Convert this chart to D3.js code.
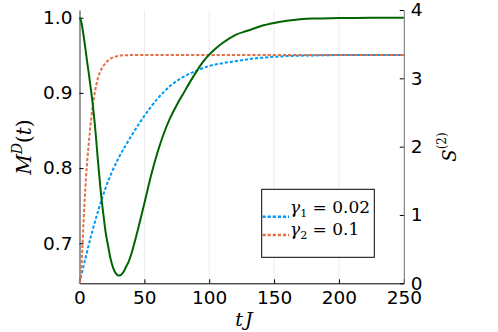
<!DOCTYPE html>
<html>
<head>
<meta charset="utf-8">
<script src="https://cdn.jsdelivr.net/npm/d3@7"></script>
<style>
  body { margin: 0; background: #fff; }
  svg { display: block; }
</style>
</head>
<body>
<svg id="chart"></svg>
<script>
// M^D(t) (left axis, solid green)
const greenT = [0, 1, 2, 3, 4, 5, 6, 7, 8, 9, 10, 11, 12, 13, 14, 15, 16, 17, 18, 19, 20, 22, 24, 26, 28, 30, 32, 34, 36, 38, 40, 45, 50, 55, 60, 65, 70, 75, 80, 85, 90, 95, 100, 105, 110, 120, 130, 140, 150, 160, 170, 180, 200, 225, 250]
const greenM = [1.0, 0.997, 0.989, 0.978, 0.966, 0.953, 0.94, 0.928, 0.915, 0.902, 0.888, 0.872, 0.855, 0.835, 0.814, 0.795, 0.776, 0.759, 0.744, 0.73, 0.716, 0.697, 0.679, 0.667, 0.66, 0.657, 0.658, 0.662, 0.669, 0.676, 0.686, 0.718, 0.753, 0.789, 0.82, 0.846, 0.867, 0.884, 0.899, 0.914, 0.928, 0.941, 0.951, 0.959, 0.966, 0.977, 0.983, 0.989, 0.993, 0.996, 0.998, 0.999, 0.9995, 1.0, 1.0]

// S^(2) (right axis, dotted)
const blueT = [0, 5, 10, 15, 20, 25, 30, 35, 40, 45, 50, 55, 60, 65, 70, 80, 90, 100, 110, 120, 130, 140, 150, 160, 180, 200, 250]
const blueS = [0, 0.4, 0.77, 1.1, 1.39, 1.63, 1.83, 2.0, 2.16, 2.31, 2.45, 2.58, 2.7, 2.8, 2.89, 3.02, 3.11, 3.18, 3.22, 3.25, 3.28, 3.3, 3.315, 3.325, 3.335, 3.34, 3.34]
const orangeT = [0, 1, 2, 3, 4, 5, 6, 7, 8, 9, 10, 11, 12, 13, 14, 15, 16, 18, 20, 22, 25, 28, 32, 40, 250]
const orangeS = [0, 0.1, 0.45, 0.84, 1.22, 1.54, 1.8, 2.02, 2.22, 2.4, 2.56, 2.7, 2.81, 2.91, 2.99, 3.05, 3.1, 3.17, 3.22, 3.26, 3.3, 3.32, 3.335, 3.34, 3.34]

const legendLabels = [["1", "0.02"], ["2", "0.1"]]
const xTicks = [0, 50, 100, 150, 200, 250]
const leftTicks = [0.7, 0.8, 0.9, 1.0]
const rightTicks = [0, 1, 2, 3, 4]

const width = 498, height = 332
const svg = d3.select("#chart").attr("width", width).attr("height", height)

const x = d3.scaleLinear().domain([0, 250]).range([79.5, 403.8])
const pad = (1.0 - 0.657) * 0.03
const yL = d3.scaleLinear().domain([0.657 - pad, 1.0 + pad]).range([283.3, 10])
const yR = d3.scaleLinear().domain([0, 4]).range([283.3, 10])

// vertical grid
svg.append("g")
  .selectAll("line")
  .data(xTicks.slice(1, -1))
  .enter()
  .append("line")
  .attr("x1", d => x(d)).attr("x2", d => x(d))
  .attr("y1", 10).attr("y2", 283.3)
  .attr("stroke", "#ebebeb")
  .attr("stroke-width", 1)

const tickFont = "DejaVu Sans, sans-serif"

const xAxis = svg.append("g")
  .attr("transform", "translate(0,283.3)")
  .call(d3.axisBottom(x).tickValues(xTicks).tickFormat(d3.format("d")).tickSizeInner(-4).tickSizeOuter(0).tickPadding(8))
const lAxis = svg.append("g")
  .attr("transform", "translate(79.5,0)")
  .call(d3.axisLeft(yL).tickValues(leftTicks).tickFormat(d3.format(".1f")).tickSizeInner(-4).tickSizeOuter(0).tickPadding(7))
const rAxis = svg.append("g")
  .attr("transform", "translate(403.8,0)")
  .call(d3.axisRight(yR).tickValues(rightTicks).tickFormat(d3.format("d")).tickSizeInner(-4).tickSizeOuter(0).tickPadding(7))

;[xAxis, lAxis, rAxis].forEach(g => {
  g.selectAll("text").attr("font-family", tickFont).attr("font-size", 18.5).attr("fill", "#000")
  g.selectAll(".tick line").attr("stroke", "#000")
})
xAxis.select(".domain").attr("stroke", "#000")
lAxis.select(".domain").attr("stroke", "#333")
rAxis.select(".domain").attr("stroke", "#6e6e6e")

// lines
const lineR = (ts, vs) => d3.line().curve(d3.curveMonotoneX).x((d, i) => x(ts[i])).y(d => yR(d))(vs)
const lineL = (ts, vs) => d3.line().curve(d3.curveMonotoneX).x((d, i) => x(ts[i])).y(d => yL(d))(vs)

const dotColors = ["#009af9", "#e26f46"]
const dash = "3.2,1.9"

svg.append("path").attr("d", lineR(blueT, blueS))
  .attr("fill", "none").attr("stroke", dotColors[0]).attr("stroke-width", 2).attr("stroke-dasharray", dash)
svg.append("path").attr("d", lineR(orangeT, orangeS))
  .attr("fill", "none").attr("stroke", dotColors[1]).attr("stroke-width", 2).attr("stroke-dasharray", dash)
svg.append("path").attr("d", lineL(greenT, greenM))
  .attr("fill", "none").attr("stroke", "#006400").attr("stroke-width", 2).attr("stroke-linejoin", "round")

// axis labels
const mathFont = "DejaVu Serif, serif"
const ml = svg.append("text")
  .attr("transform", "translate(31,147) rotate(-90)")
  .attr("text-anchor", "middle")
  .attr("font-family", mathFont).attr("font-size", 20)
ml.append("tspan").attr("font-style", "italic").text("M")
ml.append("tspan").attr("font-style", "italic").attr("font-size", 14).attr("dy", -9).text("D")
ml.append("tspan").attr("dy", 9).text("(")
ml.append("tspan").attr("font-style", "italic").text("t")
ml.append("tspan").text(")")

const sl = svg.append("text")
  .attr("transform", "translate(456,147) rotate(-90)")
  .attr("text-anchor", "middle")
  .attr("font-family", mathFont).attr("font-size", 18)
sl.append("tspan").attr("font-style", "italic").text("S")
sl.append("tspan").attr("font-size", 12).attr("dy", -10).text("(2)")

svg.append("text")
  .attr("x", 245).attr("y", 326)
  .attr("text-anchor", "middle")
  .attr("font-family", mathFont).attr("font-size", 19).attr("font-style", "italic")
  .attr("letter-spacing", 2)
  .text("tJ")

// legend
const lg = svg.append("g")
lg.append("rect")
  .attr("x", 261.7).attr("y", 189.3).attr("width", 112.6).attr("height", 68)
  .attr("fill", "#fff").attr("stroke", "#000").attr("stroke-width", 1)

legendLabels.forEach((lab, i) => {
  const cy = 216.7 + i * 18.3
  lg.append("line")
    .attr("x1", 262.5).attr("x2", 289).attr("y1", cy).attr("y2", cy)
    .attr("stroke", dotColors[i]).attr("stroke-width", 2.5).attr("stroke-dasharray", dash)
  const t = lg.append("text")
    .attr("x", 290).attr("y", 213.3 + i * 21.7)
    .attr("font-family", mathFont).attr("font-size", 17)
  t.append("tspan").attr("font-style", "italic").text("γ")
  t.append("tspan").attr("font-size", 11).attr("dy", 4).text(lab[0])
  t.append("tspan").attr("dy", -4).text(" = " + lab[1])
})
</script>
</body>
</html>
